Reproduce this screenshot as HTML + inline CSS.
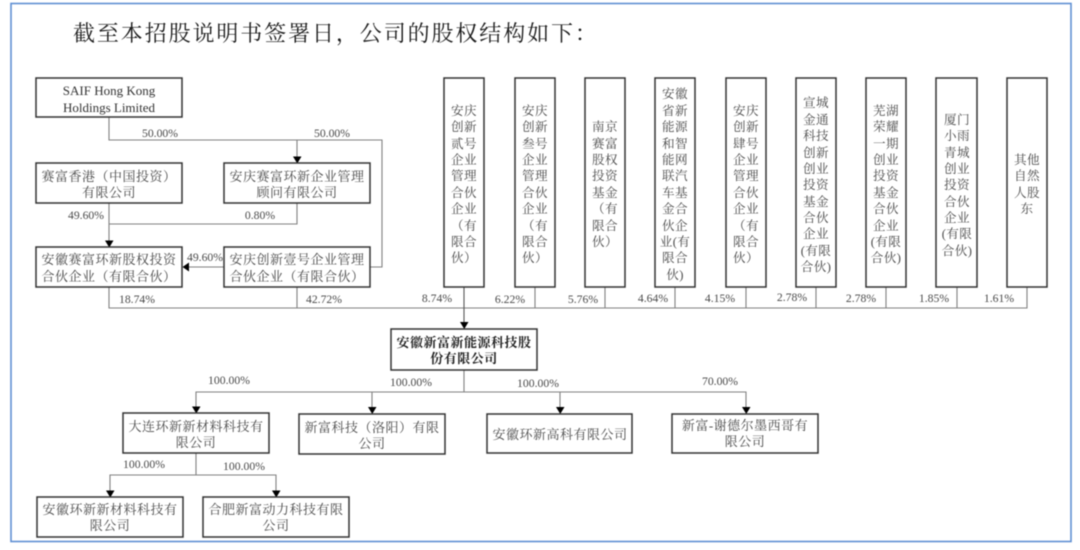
<!DOCTYPE html>
<html><head><meta charset="utf-8"><style>
html,body{margin:0;padding:0;background:#fff;width:1080px;height:550px;overflow:hidden}
svg{display:block;filter:blur(.4px)}
text{font-family:"Liberation Serif","Noto Serif CJK SC",serif;fill:#4a4a4a}
.c{font-size:13px;letter-spacing:.5px;text-anchor:middle}
.v{font-size:12.6px;letter-spacing:.4px;text-anchor:middle}
.p{font-size:11.7px;text-anchor:middle;fill:#555}
.b rect{fill:#fff;stroke:#333;stroke-width:1.5}
.l path{fill:none;stroke:#808080;stroke-width:1.1}
.a path{fill:#000}
</style></head><body>
<svg width="1080" height="550" viewBox="0 0 1080 550" xmlns="http://www.w3.org/2000/svg">
<rect x="11" y="3.500" width="1060" height="538" fill="#fff" stroke="#5f8fd3" stroke-width="1.6"/>
<text x="73" y="41" style="font-size:22px;letter-spacing:1.9px;fill:#1c1c1c">截至本招股说明书签署日，公司的股权结构如下：</text>

<g class="l">
<path d="M109 117V140H382V267H370"/>
<path d="M297 140V158"/>
<path d="M109 203V242"/>
<path d="M297 203V224H109"/>
<path d="M224 267H188"/>
<path d="M109 287V308H1027V287"/>
<path d="M297 287V308M535 287V308M605 287V308M675 287V308M746 287V308M816 287V308M886 287V308M957 287V308"/>
<path d="M464 287V323" style="stroke:#555"/>
<path d="M464 370V392M196 408V392H746V408M372 392V408M560 392V408"/>
<path d="M196 453V475M110 492V475H276V492"/>
</g>
<g class="a">
<path d="M293 156.500H301.500L297.250 163.500Z"/>
<path d="M105 240.500H113.500L109.250 247.500Z"/>
<path d="M189 262.500V271.500L182.500 267Z"/>
<path d="M460 322H468.500L464.250 329Z"/>
<path d="M192 406.500H200.500L196.250 413.500Z"/>
<path d="M368 407H376.500L372.250 414Z"/>
<path d="M556 407H564.500L560.250 414Z"/>
<path d="M742 407H750.500L746.250 414Z"/>
<path d="M106 490.500H114.500L110.250 497.500Z"/>
<path d="M272 490.500H280.500L276.250 497.500Z"/>
</g>

<g class="b">
<rect x="36" y="78" width="146" height="39"/>
<rect x="36" y="163" width="146" height="40"/>
<rect x="224" y="163" width="146" height="40"/>
<rect x="36" y="247" width="146" height="40"/>
<rect x="224" y="247" width="146" height="40"/>
<rect x="444" y="78" width="40" height="209"/>
<rect x="515" y="78" width="40" height="209"/>
<rect x="585" y="78" width="40" height="209"/>
<rect x="655" y="78" width="40" height="209"/>
<rect x="726" y="78" width="40" height="209"/>
<rect x="796" y="78" width="40" height="209"/>
<rect x="866" y="78" width="40" height="209"/>
<rect x="936" y="78" width="41" height="209"/>
<rect x="1007" y="78" width="40" height="209"/>
<rect x="391" y="329" width="146" height="41"/>
<rect x="123" y="413" width="146" height="40"/>
<rect x="299" y="414" width="146" height="40"/>
<rect x="487" y="414" width="145" height="39"/>
<rect x="672" y="414" width="146" height="39"/>
<rect x="37" y="497" width="146" height="40"/>
<rect x="203" y="497" width="146" height="40"/>
</g>

<text class="c" x="109" y="95" style="letter-spacing:0;fill:#333">SAIF Hong Kong</text>
<text class="c" x="109" y="112" style="letter-spacing:0;fill:#333">Holdings Limited</text>
<text class="c" x="109" y="181">赛富香港（中国投资）</text>
<text class="c" x="109" y="197">有限公司</text>
<text class="c" x="297" y="181">安庆赛富环新企业管理</text>
<text class="c" x="297" y="197">顾问有限公司</text>
<text class="c" x="109" y="264">安徽赛富环新股权投资</text>
<text class="c" x="109" y="281">合伙企业（有限合伙）</text>
<text class="c" x="297" y="264">安庆创新壹号企业管理</text>
<text class="c" x="297" y="281">合伙企业（有限合伙）</text>

<g class="v">
<text x="464" y="115">安庆</text><text x="464" y="131">创新</text><text x="464" y="148">贰号</text><text x="464" y="164">企业</text><text x="464" y="180">管理</text><text x="464" y="197">合伙</text><text x="464" y="213">企业</text><text x="464" y="230">（有</text><text x="464" y="246">限合</text><text x="464" y="262">伙）</text>
<text x="535" y="115">安庆</text><text x="535" y="131">创新</text><text x="535" y="148">叁号</text><text x="535" y="164">企业</text><text x="535" y="180">管理</text><text x="535" y="197">合伙</text><text x="535" y="213">企业</text><text x="535" y="230">（有</text><text x="535" y="246">限合</text><text x="535" y="262">伙）</text>
<text x="605" y="131">南京</text><text x="605" y="148">赛富</text><text x="605" y="164">股权</text><text x="605" y="180">投资</text><text x="605" y="197">基金</text><text x="605" y="213">（有</text><text x="605" y="230">限合</text><text x="605" y="246">伙）</text>
<text x="675" y="98">安徽</text><text x="675" y="115">省新</text><text x="675" y="131">能源</text><text x="675" y="148">和智</text><text x="675" y="164">能网</text><text x="675" y="180">联汽</text><text x="675" y="197">车基</text><text x="675" y="213">金合</text><text x="675" y="230">伙企</text><text x="675" y="246">业(有</text><text x="675" y="262">限合</text><text x="675" y="279">伙)</text>
<text x="746" y="115">安庆</text><text x="746" y="131">创新</text><text x="746" y="148">肆号</text><text x="746" y="164">企业</text><text x="746" y="180">管理</text><text x="746" y="197">合伙</text><text x="746" y="213">企业</text><text x="746" y="230">（有</text><text x="746" y="246">限合</text><text x="746" y="262">伙）</text>
<text x="816" y="107">宣城</text><text x="816" y="124">金通</text><text x="816" y="140">科技</text><text x="816" y="157">创新</text><text x="816" y="173">创业</text><text x="816" y="189">投资</text><text x="816" y="206">基金</text><text x="816" y="222">合伙</text><text x="816" y="238">企业</text><text x="816" y="255">(有限</text><text x="816" y="271">合伙)</text>
<text x="886" y="115">芜湖</text><text x="886" y="131">荣耀</text><text x="886" y="148">一期</text><text x="886" y="164">创业</text><text x="886" y="180">投资</text><text x="886" y="197">基金</text><text x="886" y="213">合伙</text><text x="886" y="230">企业</text><text x="886" y="246">(有限</text><text x="886" y="262">合伙)</text>
<text x="957" y="124">厦门</text><text x="957" y="140">小雨</text><text x="957" y="157">青城</text><text x="957" y="173">创业</text><text x="957" y="189">投资</text><text x="957" y="206">合伙</text><text x="957" y="222">企业</text><text x="957" y="238">(有限</text><text x="957" y="255">合伙)</text>
<text x="1027" y="164">其他</text><text x="1027" y="180">自然</text><text x="1027" y="197">人股</text><text x="1027" y="213">东</text>
</g>

<text class="c" x="464" y="347" style="font-weight:700;fill:#222">安徽新富新能源科技股</text>
<text class="c" x="464" y="363" style="font-weight:700;fill:#222">份有限公司</text>
<text class="c" x="196" y="431">大连环新新材料科技有</text>
<text class="c" x="196" y="447">限公司</text>
<text class="c" x="372" y="432">新富科技（洛阳）有限</text>
<text class="c" x="372" y="448">公司</text>
<text class="c" x="560" y="439">安徽环新高科有限公司</text>
<text class="c" x="745" y="430">新富-谢德尔墨西哥有</text>
<text class="c" x="745" y="446">限公司</text>
<text class="c" x="110" y="514">安徽环新新材料科技有</text>
<text class="c" x="110" y="530">限公司</text>
<text class="c" x="276" y="514">合肥新富动力科技有限</text>
<text class="c" x="276" y="530">公司</text>

<g class="p">
<text x="160" y="137">50.00%</text>
<text x="332" y="137">50.00%</text>
<text x="86" y="219">49.60%</text>
<text x="260" y="219">0.80%</text>
<text x="205" y="261">49.60%</text>
<text x="137" y="303">18.74%</text>
<text x="324" y="303">42.72%</text>
<text x="437" y="302">8.74%</text>
<text x="510" y="303">6.22%</text>
<text x="583" y="303">5.76%</text>
<text x="653" y="302">4.64%</text>
<text x="720" y="302">4.15%</text>
<text x="792" y="301">2.78%</text>
<text x="861" y="302">2.78%</text>
<text x="934" y="302">1.85%</text>
<text x="999" y="302">1.61%</text>
<text x="229" y="384">100.00%</text>
<text x="411" y="386">100.00%</text>
<text x="538" y="387">100.00%</text>
<text x="720" y="385">70.00%</text>
<text x="144" y="468">100.00%</text>
<text x="244" y="470">100.00%</text>
</g>
</svg>
</body></html>
